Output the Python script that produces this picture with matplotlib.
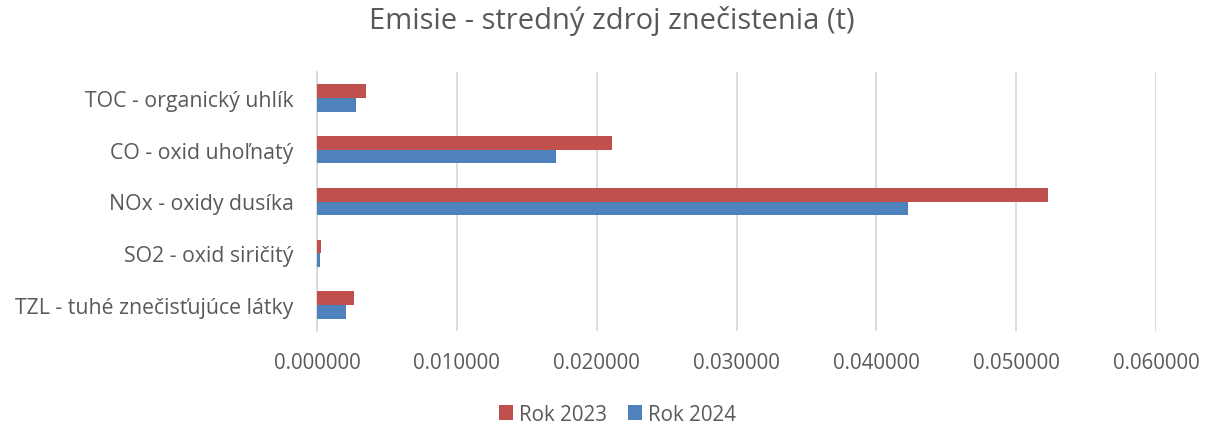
import matplotlib.pyplot as plt
import numpy as np

plt.rcParams['font.family'] = ['Open Sans', 'DejaVu Sans']

categories = ['TZL - tuhé znečisťujúce látky', 'SO2 - oxid siričitý', 'NOx - oxidy dusíka',
              'CO - oxid uhoľnatý', 'TOC - organický uhlík']
rok_2023 = [0.00265, 0.0003, 0.0523, 0.0211, 0.0035]
rok_2024 = [0.0021, 0.0002, 0.0423, 0.0171, 0.0028]
xticks = [0.0, 0.01, 0.02, 0.03, 0.04, 0.05, 0.06]

red = '#C0504D'
blue = '#4F81BD'
grey = '#595959'

fig = plt.figure(figsize=(12.11, 4.27), dpi=100)
ax = fig.add_axes([317 / 1211, 1 - 332 / 427, (1156 - 317) / 1211, (332 - 73) / 427])

y = np.arange(len(categories))
h = 0.265
ax.barh(y + h / 2, rok_2023, height=h, color=red, label='Rok 2023', zorder=3)
ax.barh(y - h / 2, rok_2024, height=h, color=blue, label='Rok 2024', zorder=3)

ax.set_xlim(0, 0.06)
ax.set_ylim(-0.5, 4.5)
ax.set_xticks(xticks)
ax.set_xticklabels([f'{v:.6f}' for v in xticks])
ax.set_yticks(y)
ax.set_yticklabels(categories)
ax.tick_params(axis='both', length=0, colors=grey)
ax.tick_params(axis='x', pad=15, labelsize=14.8)
ax.tick_params(axis='y', pad=17, labelsize=15.3)
ax.grid(axis='x', color='#D9D9D9', linewidth=1.3, zorder=0)
for s in ['top', 'right', 'bottom']:
    ax.spines[s].set_visible(False)
ax.spines['left'].set_color('#D9D9D9')
ax.spines['left'].set_linewidth(1.3)

fig.suptitle('Emisie - stredný zdroj znečistenia (t)', x=0.505, y=0.985, fontsize=21, color=grey)
fig.legend(loc='center', bbox_to_anchor=(0.51, 0.028), ncol=2, frameon=False, fontsize=14.8,
           labelcolor=grey, handlelength=0.7, handleheight=0.7, handletextpad=0.3, columnspacing=1.0)

fig.savefig('out.png', dpi=100)
